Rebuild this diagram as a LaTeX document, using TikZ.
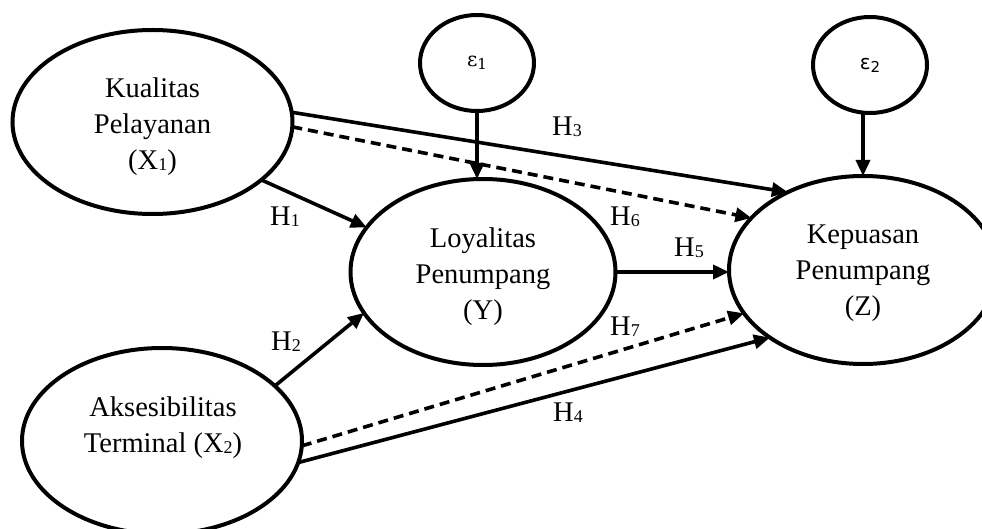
\documentclass[tikz,border=0pt]{standalone}
\usepackage{fontspec}
\setmainfont{Liberation Serif}
\newfontfamily\grkserif{DejaVu Serif}
\newfontfamily\grksans{DejaVu Sans}
\usetikzlibrary{shapes.geometric,arrows.meta}
\newcommand{\sbs}[1]{\raisebox{-1pt}{\fontsize{18}{18}\selectfont #1}}
\newcommand{\esb}[1]{\raisebox{-3pt}{\fontsize{15}{15}\selectfont #1}}
\begin{document}
\begin{tikzpicture}[x=1pt,y=-1pt,
  lat/.style={draw, line width=4pt, ellipse, inner sep=0pt, outer sep=0pt},
  lbl/.style={font=\fontsize{28.5}{36}\selectfont, align=center, inner sep=0pt},
  hl/.style={font=\fontsize{28.5}{30}\selectfont, inner sep=0pt},
  eps/.style={font=\fontsize{20}{20}\selectfont},
  arr/.style={line width=3.6pt, -{Triangle[length=16pt,width=14pt]}},
  dsh/.style={arr, dash pattern=on 10pt off 6pt}]
\clip (0,0) rectangle (982,529);
% latent variables
\node[lat, minimum width=280pt, minimum height=184pt] (kual) at (152.5,122) {};
\node[lat, minimum width=280pt, minimum height=186pt] (akse) at (162,441) {};
\node[lat, minimum width=265pt, minimum height=186pt] (loy) at (483,272) {};
\node[lat, minimum width=268pt, minimum height=188pt] (kep) at (863,270) {};
\node[lat, minimum width=114pt, minimum height=96pt, eps] (eps1) at (477,63) {\grkserif ε\esb{1}};
\node[lat, minimum width=114pt, minimum height=96pt, eps] (eps2) at (870,65) {\grksans ε\esb{2}};
% texts
\node[lbl] (tkual) at (152.5,127) {Kualitas\\Pelayanan\\(X\sbs{1})};
\node[lbl] (tloy) at (483,277) {Loyalitas\\Penumpang\\(Y)};
\node[lbl] (tkep) at (863,273) {Kepuasan\\Penumpang\\(Z)};
\node[lbl] (takse) at (163,428) {Aksesibilitas\\Terminal (X\sbs{2})};
% connectors
\draw[arr] (eps1.south) -- (eps1.south |- loy.north);
\draw[arr] (kep.north |- eps2.south) -- (kep.north);
\draw[arr] (kual.4) -- (kep.134);
\draw[dsh] (kual.-2) -- (kep.155.5);
\draw[arr] (kual.-28) -- (loy.159);
\draw[arr] (akse.26) -- (loy.199);
\draw[dsh] (akse.-2) -- (kep.200);
\draw[arr] (akse.-9) -- (kep.216);
\draw[arr] (loy.east) -- (loy.east -| kep.west);
% hypothesis labels
\node[hl] (h1) at (285,217) {H\sbs{1}};
\node[hl] (h2) at (286,342) {H\sbs{2}};
\node[hl] (h3) at (567,127) {H\sbs{3}};
\node[hl] (h4) at (568,413) {H\sbs{4}};
\node[hl] (h5) at (689,248) {H\sbs{5}};
\node[hl] (h6) at (625,217) {H\sbs{6}};
\node[hl] (h7) at (625,327) {H\sbs{7}};
\end{tikzpicture}
\end{document}
